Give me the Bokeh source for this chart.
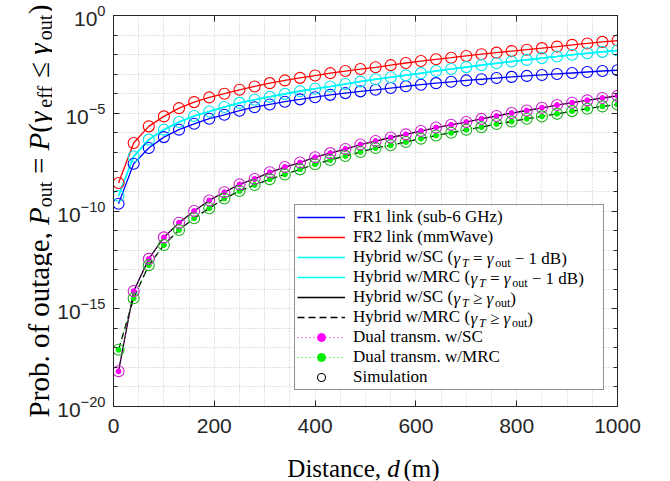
import numpy as np
from bokeh.plotting import figure
from bokeh.layouts import row, column
from bokeh.models import (Range1d, FixedTicker, LogAxis, LinearAxis, Legend, LegendItem,
                          Label, CustomJSTickFormatter, BoxAnnotation)
from bokeh.core.properties import value
from bokeh.embed import file_html
from bokeh.resources import INLINE

# ---------------------------------------------------------------- data
distance_m = [10, 40, 70, 100, 130, 160, 190, 220, 250, 280, 310, 340, 370, 400, 430, 460, 490,
              520, 550, 580, 610, 640, 670, 700, 730, 760, 790, 820, 850, 880, 910, 940, 970, 1000]

# outage probabilities, stored as log10(P_out)
fr1_log10 = [-9.63, -7.58, -6.78, -6.22, -5.84, -5.54, -5.28, -5.08, -4.87, -4.69, -4.55, -4.41,
             -4.29, -4.18, -4.06, -3.97, -3.88, -3.80, -3.71, -3.62, -3.54, -3.46, -3.39, -3.32,
             -3.26, -3.20, -3.14, -3.09, -3.04, -2.99, -2.94, -2.89, -2.84, -2.80]
fr2_log10 = [-8.57, -6.52, -5.67, -5.16, -4.74, -4.43, -4.19, -4.00, -3.80, -3.63, -3.46, -3.32,
             -3.19, -3.07, -2.95, -2.84, -2.74, -2.65, -2.54, -2.43, -2.33, -2.24, -2.16, -2.07,
             -1.98, -1.90, -1.82, -1.75, -1.67, -1.59, -1.50, -1.43, -1.35, -1.28]
hyb_sc_1db_log10 = [-9.22, -7.21, -6.35, -5.84, -5.45, -5.14, -4.91, -4.68, -4.47, -4.31, -4.16,
                    -4.01, -3.87, -3.75, -3.63, -3.50, -3.38, -3.26, -3.16, -3.06, -2.95, -2.84,
                    -2.74, -2.64, -2.54, -2.44, -2.35, -2.27, -2.18, -2.10, -2.01, -1.93, -1.86, -1.79]
hyb_mrc_1db_log10 = [-9.22, -7.21, -6.35, -5.84, -5.45, -5.14, -4.91, -4.68, -4.47, -4.31, -4.16,
                     -4.01, -3.87, -3.75, -3.63, -3.50, -3.38, -3.26, -3.16, -3.06, -2.95, -2.84,
                     -2.74, -2.64, -2.54, -2.44, -2.35, -2.27, -2.18, -2.10, -2.01, -1.93, -1.86, -1.79]
hyb_sc_ge_log10 = [-18.2, -14.1, -12.45, -11.35, -10.6, -10.0, -9.46, -9.04, -8.64, -8.36, -8.02,
                   -7.75, -7.52, -7.25, -7.04, -6.83, -6.60, -6.42, -6.24, -6.08, -5.91, -5.73,
                   -5.59, -5.45, -5.29, -5.14, -4.99, -4.86, -4.72, -4.58, -4.46, -4.34, -4.22, -4.11]
hyb_mrc_ge_log10 = [-17.1, -14.46, -12.77, -11.74, -10.97, -10.37, -9.86, -9.36, -8.98, -8.67,
                    -8.38, -8.13, -7.87, -7.61, -7.39, -7.19, -6.98, -6.78, -6.64, -6.47, -6.30,
                    -6.14, -6.00, -5.84, -5.71, -5.55, -5.42, -5.28, -5.16, -5.03, -4.89, -4.77,
                    -4.65, -4.55]
dual_sc_log10 = [-18.2, -14.1, -12.45, -11.35, -10.6, -10.0, -9.46, -9.04, -8.64, -8.36, -8.02,
                 -7.75, -7.52, -7.25, -7.04, -6.83, -6.60, -6.42, -6.24, -6.08, -5.91, -5.73,
                 -5.59, -5.45, -5.29, -5.14, -4.99, -4.86, -4.72, -4.58, -4.46, -4.34, -4.22, -4.11]
dual_mrc_log10 = [-17.1, -14.46, -12.77, -11.74, -10.97, -10.37, -9.86, -9.36, -8.98, -8.67,
                  -8.38, -8.13, -7.87, -7.61, -7.39, -7.19, -6.98, -6.78, -6.64, -6.47, -6.30,
                  -6.14, -6.00, -5.84, -5.71, -5.55, -5.42, -5.28, -5.16, -5.03, -4.89, -4.77,
                  -4.65, -4.55]

x_ticks = [0, 200, 400, 600, 800, 1000]
x_grid = [0, 50, 100, 150, 200, 250, 300, 350, 400, 450, 500, 550, 600, 650, 700, 750, 800,
          850, 900, 950, 1000]
y_tick_exps = [0, -5, -10, -15, -20]
y_grid_exps = list(range(0, -21, -1))


def pout(lst):
    return [10.0 ** v for v in lst]


AX = "#262626"
GRID = "#c4c4c4"
SERIF = "Liberation Serif"

# page geometry (canvas pixels of the whole 670 x 481 page)
W, H = 670, 481
YT_W = 52                         # strip holding the rotated y title
XT_H = 35                         # strip holding the x title
FL, FR, FT, FB = 113, 617, 15, 406   # plot frame edges
FRAME_W, FRAME_H = FR - FL, FB - FT
X0, X1, E0, E1 = 0.0, 1000.0, 0.0, -20.0  # x range and log10 y range

MAIN_W, MAIN_H = W - YT_W, H - XT_H
p = figure(width=MAIN_W, height=MAIN_H, y_axis_type="log",
           x_range=Range1d(X0, X1), y_range=Range1d(10.0 ** E1, 10.0 ** E0),
           output_backend="svg", toolbar_location=None,
           min_border_left=FL - YT_W, min_border_right=W - FR,
           min_border_top=FT, min_border_bottom=MAIN_H - FB)
p.background_fill_color = "white"
p.border_fill_color = "white"
p.outline_line_color = AX
p.outline_line_width = 1


def dx(px):
    """page pixel column -> data x of the main plot"""
    return X0 + (px - FL) / FRAME_W * (X1 - X0)


def dy(py):
    """page pixel row (from top) -> data y on the log axis"""
    return 10.0 ** (E0 + (py - FT) / FRAME_H * (E1 - E0))


# ---------------------------------------------------------------- axes and grid
xt = FixedTicker(ticks=x_ticks, minor_ticks=[])
yt = FixedTicker(ticks=[10.0 ** e for e in y_tick_exps], minor_ticks=[10.0 ** e for e in y_grid_exps])

bottom_ax = p.xaxis[0]
left_ax = p.yaxis[0]
bottom_ax.ticker = xt
left_ax.ticker = yt

blank = CustomJSTickFormatter(code="return '';")
right_ax = LogAxis(ticker=yt, formatter=blank)
top_ax = LinearAxis(ticker=xt, formatter=blank)
p.add_layout(right_ax, "right")
p.add_layout(top_ax, "above")

for ax in [bottom_ax, left_ax, right_ax, top_ax]:
    ax.axis_line_color = AX
    ax.axis_line_width = 1
    ax.major_tick_line_color = AX
    ax.minor_tick_line_color = AX
    ax.major_tick_in = 6
    ax.major_tick_out = 0
    ax.minor_tick_in = 4
    ax.minor_tick_out = 0
    ax.major_label_text_font = "Liberation Sans"
    ax.major_label_text_font_size = "21px"
    ax.major_label_text_color = AX

bottom_ax.major_label_standoff = 12
left_ax.major_label_standoff = 8
for ax in [right_ax, top_ax]:
    ax.major_label_standoff = 0

p.xgrid.ticker = FixedTicker(ticks=x_grid)
p.ygrid.ticker = FixedTicker(ticks=[10.0 ** e for e in y_grid_exps])
for g in [p.xgrid[0], p.ygrid[0]]:
    g.grid_line_color = GRID
    g.grid_line_dash = "1 2"
    g.grid_line_width = 1

# ---------------------------------------------------------------- legend box geometry (page px)
LEG_LEFT, LEG_BOTTOM, LEG_PAD, ROW_H, GLYPH_W, STANDOFF, LAB_W = 294, 390, 2, 20, 48, 8, 248
N_ROWS = 9
LEG_H = 2 * LEG_PAD + N_ROWS * ROW_H
LEG_W = 2 * LEG_PAD + GLYPH_W + STANDOFF + LAB_W
LEG_TOP = LEG_BOTTOM - LEG_H

# white panel behind the legend entries
p.add_layout(BoxAnnotation(left=dx(LEG_LEFT), right=dx(LEG_LEFT + LEG_W),
                           top=dy(LEG_TOP), bottom=dy(LEG_BOTTOM),
                           fill_color="white", fill_alpha=1.0, line_color=None, level="underlay"))

# ---------------------------------------------------------------- curves
d = distance_m
r_fr1 = p.line(d, pout(fr1_log10), line_color="#0000ff", line_width=1.3)
r_fr2 = p.line(d, pout(fr2_log10), line_color="#ff0000", line_width=1.3)
r_hsc1 = p.line(d, pout(hyb_sc_1db_log10), line_color="#00ffff", line_width=1.6)
r_hmrc1 = p.line(d, pout(hyb_mrc_1db_log10), line_color="#00ffff", line_width=1.6)
r_hsc = p.line(d, pout(hyb_sc_ge_log10), line_color="black", line_width=1.3)
r_hmrc = p.line(d, pout(hyb_mrc_ge_log10), line_color="black", line_width=1.3, line_dash="7 4")
r_dsc_l = p.line(d, pout(dual_sc_log10), line_color="#ff00ff", line_width=1, line_dash="1 3")
r_dmrc_l = p.line(d, pout(dual_mrc_log10), line_color="#00ee00", line_width=1, line_dash="1 3")
r_dsc_m = p.scatter(d, pout(dual_sc_log10), marker="circle", size=5,
                    fill_color="#ff00ff", line_color="#ff00ff")
r_dmrc_m = p.scatter(d, pout(dual_mrc_log10), marker="circle", size=5,
                     fill_color="#00ee00", line_color="#00ee00")

# simulation points
for vals, col in [(fr1_log10, "#0000ff"), (fr2_log10, "#ff0000"), (hyb_sc_1db_log10, "#00e5ee"),
                  (dual_sc_log10, "#cc22cc"), (dual_mrc_log10, "#22b022")]:
    p.scatter(d, pout(vals), marker="circle", size=11, fill_color=None,
              line_color=col, line_width=1.1)

# legend key for the simulation markers (no visible data of its own)
sim_key = p.scatter(x=[float("nan")], y=[float("nan")], marker="circle", size=10,
                    fill_color=None, line_color="black", line_width=1.1)

# ---------------------------------------------------------------- legend
legend = Legend(items=[
    LegendItem(label=value("FR1 link (sub-6 GHz)"), renderers=[r_fr1]),
    LegendItem(label=value("FR2 link (mmWave)"), renderers=[r_fr2]),
    LegendItem(label=value("Hybrid w/SC ("), renderers=[r_hsc1]),
    LegendItem(label=value("Hybrid w/MRC ("), renderers=[r_hmrc1]),
    LegendItem(label=value("Hybrid w/SC ("), renderers=[r_hsc]),
    LegendItem(label=value("Hybrid w/MRC ("), renderers=[r_hmrc]),
    LegendItem(label=value("Dual transm. w/SC"), renderers=[r_dsc_l, r_dsc_m]),
    LegendItem(label=value("Dual transm. w/MRC"), renderers=[r_dmrc_l, r_dmrc_m]),
    LegendItem(label=value("Simulation"), renderers=[sim_key]),
])
legend.location = (LEG_LEFT - FL, FB - LEG_BOTTOM)
legend.margin = 0
legend.padding = LEG_PAD
legend.spacing = 0
legend.glyph_width = GLYPH_W
legend.glyph_height = ROW_H
legend.label_height = ROW_H
legend.label_width = LAB_W
legend.label_standoff = STANDOFF
legend.label_text_font = SERIF
legend.label_text_font_size = "17px"
legend.label_text_color = "black"
legend.border_line_color = AX
legend.border_line_width = 1
legend.background_fill_alpha = 0.0
p.add_layout(legend)

# ---------------------------------------------------------------- rich text helpers
W_RM = {' ': 250, '(': 333, ')': 333, ',': 250, '-': 333, '.': 250, '/': 278, '0': 500, '1': 500,
        '6': 500, '=': 564, '≤': 549, '≥': 549, '−': 564, 'B': 667, 'C': 667, 'D': 722, 'F': 556,
        'G': 722, 'H': 722, 'M': 889, 'P': 556, 'R': 667, 'S': 556, 'T': 611, 'W': 944, 'a': 444,
        'b': 500, 'c': 444, 'd': 500, 'e': 444, 'f': 333, 'g': 500, 'h': 500, 'i': 278, 'k': 500,
        'l': 278, 'm': 778, 'n': 500, 'o': 500, 'r': 333, 's': 389, 't': 278, 'u': 500, 'w': 722,
        'y': 500, 'z': 444, 'γ': 440}
W_IT = {'P': 611, 'T': 556, 'd': 500, 'γ': 500}
SUB = 0.7


def is_sub(sty):
    return sty in ("sub", "subit")


def is_it(sty):
    return sty in ("it", "subit")


def width(txt, size, italic=False):
    tab = W_IT if italic else W_RM
    return sum(tab.get(ch, W_RM.get(ch, 500)) for ch in txt) * size / 1000.0


def piece_width(txt, sty, size):
    if sty == "gap":
        return float(txt) * size / 1000.0
    s = size * SUB if is_sub(sty) else size
    return width(txt, s, is_it(sty))


def run_width(pieces, size):
    return sum(piece_width(t, s, size) for t, s in pieces)


def put(fig, xd, yd, txt, size, italic=False, angle=0.0, align="left", baseline="alphabetic"):
    fig.add_layout(Label(x=xd, y=yd, text=txt, angle=angle, text_font=SERIF,
                         text_font_size=f"{round(size)}px",
                         text_font_style="italic" if italic else "normal",
                         text_color="black", text_align=align, text_baseline=baseline))


def place(fig, to_data, pieces, cx, cy, size, vertical=False, sub_shift=4.0, baseline="alphabetic"):
    """Lay out roman / italic / subscript pieces from page point (cx, cy).
    Horizontal runs advance to the right; vertical runs advance upwards."""
    pos = 0.0
    for txt, sty in pieces:
        if sty != "gap":
            s = size * SUB if is_sub(sty) else size
            body = txt.strip(" ")
            lead = (len(txt) - len(txt.lstrip(" "))) * width(" ", s)
            off = sub_shift if is_sub(sty) else 0.0
            a = pos + lead
            if vertical:
                px, py = cx + off, cy - a
            else:
                px, py = cx + a, cy + off
            xd, yd = to_data(px, py)
            if body:
                put(fig, xd, yd, body, s, italic=is_it(sty),
                    angle=float(np.pi / 2) if vertical else 0.0, baseline=baseline)
        pos += piece_width(txt, sty, size)


# legend rows with symbols and subscripts
text_x = LEG_LEFT + LEG_PAD + GLYPH_W + STANDOFF
tail_1db = [("γ", "it"), ("T", "subit"), (" = ", "rm"), ("γ", "it"), ("out", "sub"),
            (" − 1 dB)", "rm")]
tail_ge = [("γ", "it"), ("T", "subit"), (" ≥ ", "rm"), ("γ", "it"), ("out", "sub"), (")", "rm")]
main_map = lambda px, py: (dx(px), dy(py))
for r, prefix, tail in [(2, "Hybrid w/SC (", tail_1db), (3, "Hybrid w/MRC (", tail_1db),
                        (4, "Hybrid w/SC (", tail_ge), (5, "Hybrid w/MRC (", tail_ge)]:
    yc = LEG_TOP + LEG_PAD + ROW_H * r + ROW_H / 2
    place(p, main_map, tail, text_x + width(prefix, 17) + 1, yc, 17, sub_shift=4.0,
          baseline="middle")


def text_strip(w, h):
    f = figure(width=w, height=h, x_range=Range1d(0, w), y_range=Range1d(0, h), title=None,
               x_axis_location=None, y_axis_location=None, min_border=0,
               output_backend="svg", toolbar_location=None)
    f.outline_line_color = None
    f.background_fill_color = "white"
    f.border_fill_color = "white"
    f.grid.visible = False
    return f


# y-axis title (rotated), in its own strip left of the plot
ytitle = text_strip(YT_W, H)
ylab = [("Prob. of outage, ", "rm"), ("P", "it"), ("out", "sub"), (" = ", "rm"), ("P", "it"),
        ("(", "rm"), ("γ", "it"), ("30", "gap"), ("eff", "sub"), (" ≤ ", "rm"), ("γ", "it"),
        ("out", "sub"), (")", "rm")]
ysize = 29
L = run_width(ylab, ysize)
place(ytitle, lambda px, py: (px, H - py), ylab, 38, FT + FRAME_H / 2 + L / 2, ysize,
      vertical=True, sub_shift=6.5)

# x-axis title, in its own strip under the plot; anchored on the italic d
xtitle = text_strip(MAIN_W, XT_H)
xsize = 25
w_left = width("Distance,", xsize)
w_d = width("d", xsize, True)
w_right = width("(m)", xsize)
gap = 0.3 * xsize
total = w_left + gap + w_d + gap + w_right
x_d = FL + FRAME_W / 2 - total / 2 + w_left + gap
xbase = H - 468
put(xtitle, x_d - gap - YT_W, xbase, "Distance,", xsize, align="right")
put(xtitle, x_d - YT_W, xbase, "d", xsize, italic=True)
put(xtitle, x_d + w_d + gap - YT_W, xbase, "(m)", xsize)

layout = row(ytitle, column(p, xtitle, spacing=0), spacing=0)
open("out.html", "w").write(file_html(layout, INLINE))
